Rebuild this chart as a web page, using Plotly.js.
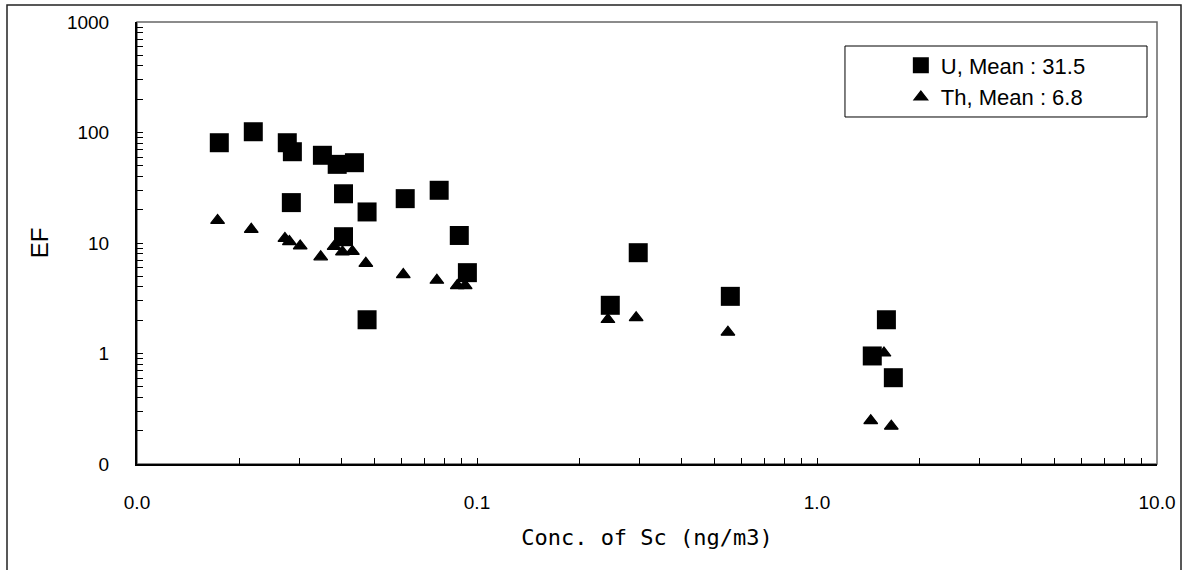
<!DOCTYPE html>
<html><head><meta charset="utf-8">
<script src="https://cdn.plot.ly/plotly-3.0.1.min.js"></script>
<style>html,body{margin:0;padding:0;background:#fff}#chart{width:1185px;height:570px}</style>
</head><body><div id="chart"></div>
<script>
// U enrichment factors vs Sc concentration
const uConc = [0.01746, 0.02198, 0.02767, 0.02864, 0.0351, 0.0388, 0.0436, 0.0405, 0.02844, 0.0475, 0.0615, 0.0774, 0.0405, 0.0887, 0.0937, 0.0475, 0.298, 0.2466, 0.556, 1.60, 1.454, 1.677];
const uEF   = [80.8, 101.6, 80.8, 67.0, 62.2, 51.5, 53.3, 27.9, 23.2, 19.1, 25.2, 30.0, 11.4, 11.7, 5.39, 2.02, 8.17, 2.73, 3.29, 2.02, 0.95, 0.604];
// Th enrichment factors vs Sc concentration
const thConc = [0.01726, 0.02168, 0.02723, 0.02807, 0.0302, 0.0347, 0.0380, 0.0402, 0.0430, 0.0471, 0.0607, 0.0762, 0.0875, 0.0923, 0.2427, 0.2938, 0.547, 1.574, 1.439, 1.654];
const thEF   = [16.0, 13.3, 11.0, 10.3, 9.4, 7.5, 9.3, 8.3, 8.4, 6.55, 5.18, 4.6, 4.12, 4.12, 2.03, 2.11, 1.56, 1.01, 0.247, 0.22];

const seriesNames = ['U, Mean : 31.5', 'Th, Mean : 6.8'];
const xTitle = 'Conc. of Sc (ng/m3)';
const yTitle = 'EF';

const xMajorVals = [0.01, 0.1, 1, 10];
const xMajorText = ['0.0', '0.1', '1.0', '10.0'];
const yMajorVals = [0.1, 1, 10, 100, 1000];
const yMajorText = ['0', '1', '10', '100', '1000'];

function withMinors(majors, labels) {
  const vals = [], text = [];
  majors.forEach((m, i) => {
    vals.push(m); text.push(labels[i]);
    if (i < majors.length - 1) {
      for (let k = 2; k <= 9; k++) { vals.push(m * k); text.push(''); }
    }
  });
  return {vals, text};
}
const xt = withMinors(xMajorVals, xMajorText);
const yt = withMinors(yMajorVals, yMajorText);

const tickFont = {family: 'Liberation Sans, Arial, sans-serif', size: 19, color: '#000'};

const traces = [
  {x: uConc, y: uEF, name: seriesNames[0], type: 'scatter', mode: 'markers',
   marker: {symbol: 'square', size: 19, color: '#000', line: {width: 0}}},
  {x: thConc, y: thEF, name: seriesNames[1], type: 'scatter', mode: 'markers',
   marker: {symbol: 'triangle-up', size: 12, color: '#000', line: {width: 1.2, color: '#000'}}}
];

const layout = {
  width: 1185, height: 570,
  margin: {l: 137, r: 28, t: 22, b: 106},
  paper_bgcolor: '#fff', plot_bgcolor: '#fff',
  showlegend: true,
  legend: {x: 0.842, y: 0.8654, xanchor: 'center', yanchor: 'middle',
           bgcolor: 'rgba(0,0,0,0)', borderwidth: 0,
           font: {family: 'Liberation Sans, Arial, sans-serif', size: 22, color: '#000'},
           itemsizing: 'trace'},
  xaxis: {type: 'log', range: [-2, 1], tickvals: xt.vals, ticktext: xt.text,
          ticks: 'inside', ticklen: 6, tickwidth: 1, tickcolor: '#000',
          showgrid: false, zeroline: false, showline: true, linecolor: '#000', linewidth: 2,
          tickfont: tickFont, ticklabelstandoff: 20, automargin: false,
          title: {text: xTitle, font: {family: 'DejaVu Sans Mono, monospace', size: 22, color: '#000'}, standoff: 18}},
  yaxis: {type: 'log', range: [-1, 3], tickvals: yt.vals, ticktext: yt.text,
          ticks: 'inside', ticklen: 6, tickwidth: 1, tickcolor: '#000',
          showgrid: false, zeroline: false, showline: true, linecolor: '#000', linewidth: 2,
          tickfont: tickFont, ticklabelstandoff: 22, automargin: false,
          title: {text: yTitle, font: {family: 'Liberation Sans, Arial, sans-serif', size: 24, color: '#000'}, standoff: 12}},
  shapes: [
    {type: 'rect', xref: 'paper', yref: 'paper', x0: 0, x1: 1, y0: 0, y1: 1,
     line: {color: '#666', width: 1.5}, layer: 'below'},
    {type: 'rect', xref: 'paper', yref: 'paper', x0: -0.12745, x1: 1.02353, y0: -0.35, y1: 1.0385,
     line: {color: '#222', width: 1.5}, layer: 'below'},
    {type: 'rect', xref: 'paper', yref: 'paper', x0: 0.6941, x1: 0.9902, y0: 0.7851, y1: 0.9457,
     line: {color: '#000', width: 1}, layer: 'below'}
  ]
};

Plotly.newPlot('chart', traces, layout, {staticPlot: true, displayModeBar: false});
</script>
</body></html>
